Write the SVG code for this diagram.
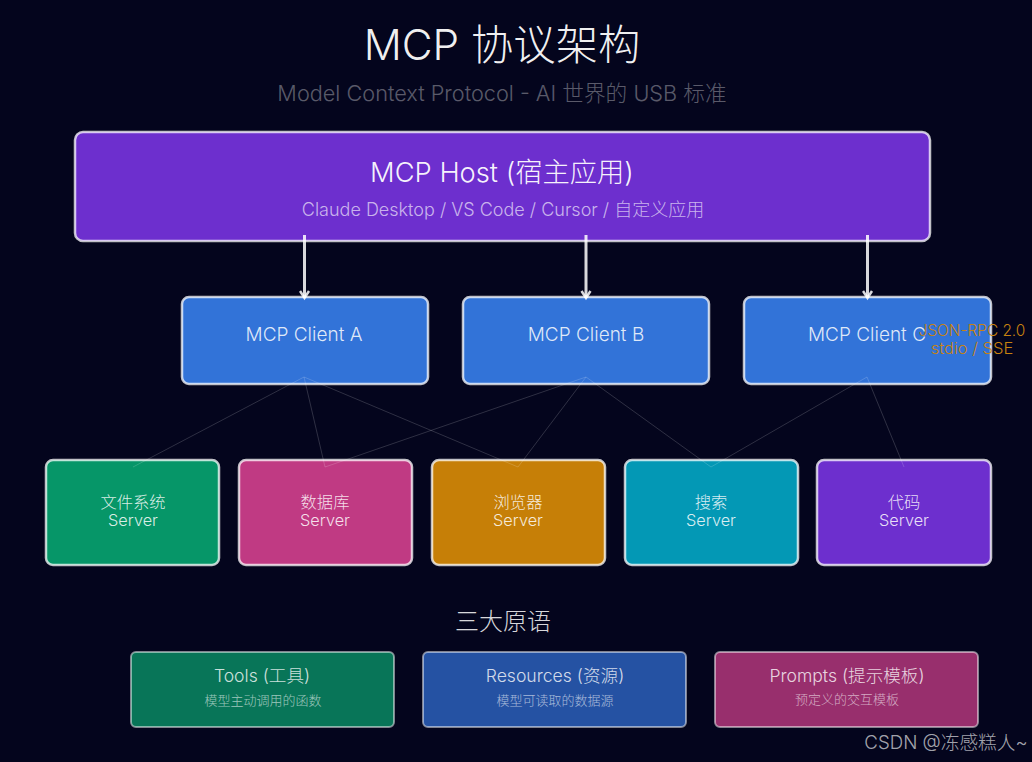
<svg xmlns="http://www.w3.org/2000/svg" width="1032" height="762" viewBox="0 0 1032 762">
<style>
text{font-family:"Inter","Noto Sans CJK SC",sans-serif;text-anchor:middle;font-weight:300}
.n{stroke:#fff;stroke-opacity:.75;stroke-width:2.5}
.p{stroke:#fff;stroke-opacity:.5;stroke-width:2}
.lbl{fill:#fff;fill-opacity:.85;font-size:16.3px}
.cl{fill:#fff;fill-opacity:.85;font-size:19px}
.pt{fill:#fff;fill-opacity:.8;font-size:17.600px}
.ps{fill:#fff;fill-opacity:.6;font-size:13px}
.a{stroke:#fff;stroke-opacity:.85;stroke-width:3;fill:none}
.t{stroke:#fff;stroke-opacity:.17;stroke-width:1;fill:none}
</style>
<defs><marker id="ah" markerUnits="userSpaceOnUse" markerWidth="12" markerHeight="12" refX="9" refY="6" orient="auto"><path d="M2 1.500L9 6L2 10.500" fill="none" stroke="#fff" stroke-opacity=".85" stroke-width="2.500"/></marker></defs>
<rect width="1032" height="762" fill="#04051d"/>
<text id="title" x="502" y="60" font-size="42.300" fill="#fff" fill-opacity=".95">MCP 协议架构</text>
<text id="subtitle" x="502" y="101" font-size="21.700" fill="#fff" fill-opacity=".35">Model Context Protocol - AI 世界的 USB 标准</text>
<g id="host"><rect class="n" x="75" y="132" width="855" height="109" rx="8" fill="#6d2fce"/>
<text x="502" y="182" font-size="27.300" fill="#fff" fill-opacity=".95">MCP Host (宿主应用)</text>
<text x="503" y="216" font-size="18" fill="#fff" fill-opacity=".65">Claude Desktop / VS Code / Cursor / 自定义应用</text></g>
<g id="client-a"><rect class="n" x="182" y="297" width="246" height="87" rx="7" fill="#3273d8"/><text class="cl" x="304" y="341">MCP Client A</text></g>
<g id="client-b"><rect class="n" x="463" y="297" width="246" height="87" rx="7" fill="#3273d8"/><text class="cl" x="586" y="341">MCP Client B</text></g>
<g id="client-c"><rect class="n" x="744" y="297" width="247" height="87" rx="7" fill="#3273d8"/><text class="cl" x="867" y="341">MCP Client C</text></g>
<g id="server-fs"><rect class="n" x="46" y="460" width="173" height="105" rx="7" fill="#069668"/><text class="lbl" x="133" y="508">文件系统</text><text class="lbl" x="133" y="526">Server</text></g>
<g id="server-db"><rect class="n" x="239" y="460" width="173" height="105" rx="7" fill="#c03a83"/><text class="lbl" x="325" y="508">数据库</text><text class="lbl" x="325" y="526">Server</text></g>
<g id="server-browser"><rect class="n" x="432" y="460" width="173" height="105" rx="7" fill="#c67f07"/><text class="lbl" x="518" y="508">浏览器</text><text class="lbl" x="518" y="526">Server</text></g>
<g id="server-search"><rect class="n" x="625" y="460" width="173" height="105" rx="7" fill="#0398b5"/><text class="lbl" x="711" y="508">搜索</text><text class="lbl" x="711" y="526">Server</text></g>
<g id="server-code"><rect class="n" x="817" y="460" width="174" height="105" rx="7" fill="#6d2fce"/><text class="lbl" x="904" y="508">代码</text><text class="lbl" x="904" y="526">Server</text></g>
<g id="connectors">
<path class="a" marker-end="url(#ah)" d="M304.500 235V298"/>
<path class="a" marker-end="url(#ah)" d="M586 235V298"/>
<path class="a" marker-end="url(#ah)" d="M867.500 235V298"/>
<path class="t" d="M133 467L304 377L325 467M304 377L518 467M325 467L586 377L518 467M586 377L711 467L867 377L904 467"/>
</g>
<g id="transport" fill="#c8820f"><text x="972" y="336" font-size="15.400">JSON-RPC 2.0</text><text x="972" y="354" font-size="16.500">stdio / SSE</text></g>
<text id="prim-title" x="503" y="630" font-size="24" fill="#fff" fill-opacity=".85">三大原语</text>
<g id="tools"><rect class="p" x="131" y="652" width="263" height="75" rx="5" fill="#087558"/><text class="pt" x="262" y="682">Tools (工具)</text><text class="ps" x="263" y="705">模型主动调用的函数</text></g>
<g id="resources"><rect class="p" x="423" y="652" width="263" height="75" rx="5" fill="#2552a3"/><text class="pt" x="555" y="682">Resources (资源)</text><text class="ps" x="555" y="705">模型可读取的数据源</text></g>
<g id="prompts"><rect class="p" x="715" y="652" width="263" height="75" rx="5" fill="#982f6d"/><text class="pt" x="847" y="682">Prompts (提示模板)</text><text class="ps" x="847" y="704">预定义的交互模板</text></g>
<text id="watermark" x="946" y="749" font-size="18.700" fill="#fff" fill-opacity=".65">CSDN @冻感糕人~</text>
</svg>
